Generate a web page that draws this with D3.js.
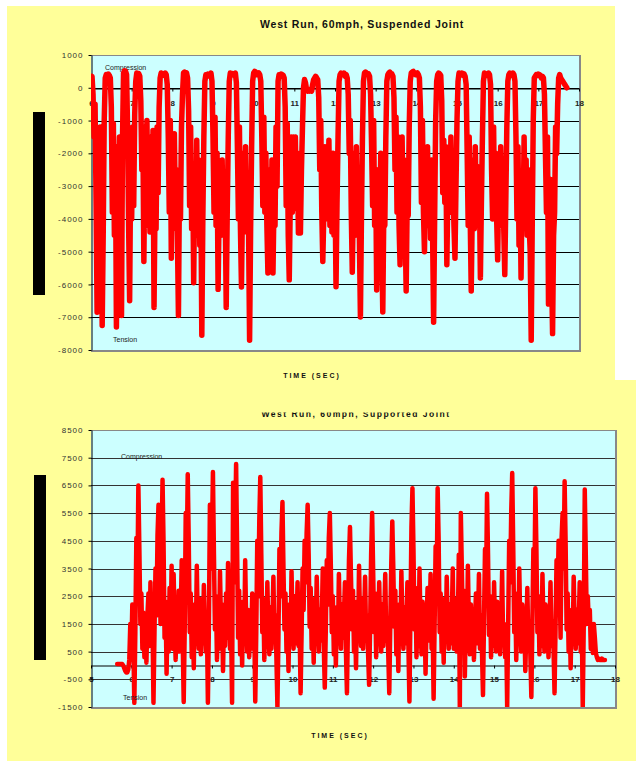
<!DOCTYPE html>
<html><head><meta charset="utf-8">
<script src="https://cdn.jsdelivr.net/npm/d3@7"></script>
<style>
body{margin:0;background:#fff}
svg{display:block}
text{font-family:"Liberation Sans",Arial,sans-serif}
</style>
</head><body>
<svg id="c" width="636" height="761"></svg>
<script>
// ---------- DATA ----------
const suspendedTitle = "West Run, 60mph, Suspended Joint";
const supportedTitle = "West Run, 60mph, Supported Joint";
const xAxisTitle = "TIME (SEC)";
const suspendedYTicks = [1000,0,-1000,-2000,-3000,-4000,-5000,-6000,-7000,-8000];
const suspendedXTicks = [6,7,8,9,10,11,12,13,14,15,16,17,18];
const supportedYTicks = [8500,7500,6500,5500,4500,3500,2500,1500,500,-500,-1500];
const supportedXTicks = [5,6,7,8,9,10,11,12,13,14,15,16,17,18];

// Sampled records: first sample time (s), sample interval (s), load per sample
const suspendedStart = 6.0;
const suspendedStep = 0.025;
const suspendedLoad = [
250,350,-200,-1500,-500,-3500,-6850,-1800,-4200,-1200,-3800,-7250,-4500,-1000,300,400,350,420,380,300,
-600,-3800,-1100,-4500,-1800,-7300,-3000,-4600,-1500,-4800,-6950,-1500,450,520,500,400,-1300,-4200,-6500,-2500,
-4000,-1200,-3600,-800,200,450,400,430,350,-400,-2500,-1200,-5300,-2000,-4200,-1000,-3800,-1500,-4400,-2200,
-3900,-1300,-6700,-3500,-4300,-1200,-3200,-600,300,450,400,420,380,450,400,100,-1500,-3800,-1000,-5200,
-2200,-4300,-1400,-4000,-2500,-4500,-6950,-3000,-4000,-1200,-200,450,480,420,450,300,-700,-3600,-1200,-4300,
-2400,-5950,-2800,-4400,-1600,-4500,-2200,-4800,-3000,-7550,-4000,-1500,200,400,350,420,400,350,450,200,
-1500,-3800,-900,-4200,-2000,-6150,-3800,-2400,-4500,-2200,-4300,-2800,-3600,-6700,-3800,-1500,200,450,400,430,
400,380,450,150,-1800,-4000,-1200,-4300,-6080,-3500,-2000,-4200,-1800,-4400,-3000,-4400,-7700,-4300,-1800,200,
450,500,480,400,420,450,400,200,-1500,-3600,-900,-3800,-2000,-4200,-5650,-3800,-2500,-4500,-2200,-5650,
-3500,-4200,-1200,-3000,200,400,350,420,400,380,300,-600,-3600,-1100,-4500,-5860,-3500,-1500,-3800,-1500,
-2600,-1500,-3700,-2000,-4430,-3200,-4430,-2500,-1200,0,250,150,-50,-100,-80,-100,-50,-100,100,250,
300,350,300,250,-300,-2500,-1000,-3800,-5300,-3800,-1800,-4000,-2200,-3800,-1600,-4200,-2600,-4400,-2000,-4500,
-3000,-6070,-3500,-1500,200,400,450,420,400,450,350,400,300,-200,-2000,-1000,-3800,-5630,-3500,-2000,
-4500,-1800,-4300,-3000,-4600,-6990,-4000,-1500,200,450,480,450,400,420,350,-200,-1800,-3600,-1000,-4200,
-2500,-6170,-3800,-2500,-4300,-2000,-4800,-6840,-3800,-4200,-1500,200,400,450,480,400,420,350,-300,-2500,
-900,-3800,-1500,-4200,-5400,-3000,-1500,-4000,-2200,-4200,-6200,-3500,-3900,-1200,200,450,480,500,450,400,
420,450,400,300,-600,-3500,-1000,-3800,-5000,-2800,-4000,-1800,-4200,-2500,-4600,-2200,-4500,-7150,-4000,-1000,
200,400,450,420,380,-400,-3200,-1600,-3500,-1800,-5400,-3200,-2000,-3800,-1500,-3800,-2800,-4200,-5200,-3000,
-1000,200,450,420,400,450,380,420,350,100,-2000,-4200,-1500,-4000,-6200,-3800,-2200,-4300,-1800,-4000,
-2400,-4200,-3000,-5800,-3500,-1500,200,450,400,420,380,450,400,100,-2500,-4000,-1200,-3800,-2000,-4000,
-5250,-3000,-4200,-1800,-3500,-2500,-4300,-5700,-3500,-1200,200,400,450,420,380,450,400,200,-1500,-4000,
-1800,-4800,-3000,-5800,-3000,-4200,-1500,-4000,-2200,-4500,-2500,-4200,-5000,-7700,-4200,-1000,300,350,400,380,
420,400,380,300,350,300,-200,-2000,-3800,-1500,-6600,-4200,-2800,-5500,-7500,-4500,-3800,-1200,-2000,-500,
300,400,300,250,200,150,100,50,0
];

const supportedStart = 5.65;
const supportedStep = 0.025;
const supportedLoad = [
50,50,50,50,50,50,0,-100,-200,-250,-250,-150,200,1500,
400,2200,900,-1350,1200,4600,2800,6500,4200,1500,2600,600,1900,300,1500,100,1800,2600,700,3000,
700,1600,-1350,1200,3500,1800,4700,5800,4000,1500,4500,6700,4400,1000,2300,-300,1800,500,2800,1200,
3600,600,3300,1500,200,1900,800,2700,500,1600,3800,900,-1320,1300,5500,3800,6900,4500,1200,2600,
300,1700,-100,2200,900,3600,1400,600,2400,400,1800,800,2900,1500,500,1600,-1350,1500,5800,3500,
4500,6980,4000,1300,2500,200,1800,600,3400,1500,2200,-200,1600,700,2600,1000,3700,1800,600,1500,
-1350,6600,3000,4600,7270,4200,1000,2700,400,1600,0,2300,800,3800,1500,500,2000,300,1700,900,
2600,600,1500,-1300,1200,4500,2500,5200,6800,4000,1200,2400,200,1900,700,3000,1200,400,2100,600,
1500,3200,900,1800,300,-1500,1000,4200,2500,4800,5900,3500,1300,2600,500,1800,-200,2200,900,3400,
1500,600,2500,800,1600,3000,700,1400,-1000,1200,3500,2000,4500,3000,4800,5800,4000,1400,2800,600,
1900,100,2400,1000,3200,1400,500,2000,900,1600,3500,700,-800,1300,3800,2200,4600,5500,3600,1200,
2500,400,1700,0,2100,800,3300,1500,600,2200,1000,1800,3000,500,-1000,1500,3800,5000,3200,1300,
2700,500,1800,-100,2300,900,3600,1500,700,2400,600,1700,3200,1000,1800,400,-700,1400,4000,5500,
3400,1200,2600,300,1900,800,3000,1300,500,2200,700,1800,3300,900,1600,400,-1000,1500,3700,5200,
3500,1400,2700,400,1800,-200,2200,900,3400,1600,600,2100,800,1500,3000,700,-1300,1800,5000,6400,
4200,1300,2800,300,1700,700,3500,1500,400,2300,800,1900,-300,1600,2800,900,1500,3300,600,1500,
-1200,1500,4300,2800,6400,4500,1200,2600,500,1800,100,2400,900,3200,1400,600,2200,800,1700,3500,
600,1200,2400,500,1400,4000,-1500,5500,3500,1300,2700,-400,1800,700,3600,1500,400,2200,900,1700,
200,1400,2600,800,1500,3300,600,1800,500,-1070,1600,4200,2600,6200,4000,1100,2500,300,1800,700,
3000,1400,500,2300,900,1800,400,1600,3400,800,1500,300,1200,-1500,1500,4500,3000,5500,6950,4300,
1200,2600,200,1800,800,3500,1500,500,2200,900,1600,-200,1300,2800,800,1600,400,-1140,1500,4200,
2800,6400,4200,1200,2500,400,1900,700,3300,1500,500,2200,900,1800,300,1400,3000,700,1600,600,
-1000,1400,3800,2200,4500,3000,1000,4600,5500,3500,6650,4400,1300,2600,500,1800,-100,2000,900,3200,
1500,600,2000,800,1500,3000,500,1600,-1500,1500,6350,4000,1500,2500,1500,2000,600,1500,450,1500,
1000,450,300,200,250,200,200,250,200,200,200
];

// ---------- LAYOUT ----------
const svg = d3.select("#c");
const YELLOW = "#ffff99", CYAN = "#ccffff", RED = "#ff0000";

svg.append("rect").attr("x",7).attr("y",6).attr("width",608).attr("height",374).attr("fill",YELLOW);
svg.append("rect").attr("x",7).attr("y",380).attr("width",629).attr("height",381).attr("fill",YELLOW);

function drawChart(o){
  const g = svg.append("g");
  const x = d3.scaleLinear().domain(o.xDomain).range([o.x0,o.x1]);
  const y = d3.scaleLinear().domain(o.yDomain).range([o.y1,o.y0]);
  const series = o.load.map((v,i)=>[o.start + i*o.step, v]);
  g.append("rect").attr("x",o.x0).attr("y",o.y0).attr("width",o.x1-o.x0).attr("height",o.y1-o.y0).attr("fill",CYAN);
  g.selectAll(".grid").data(o.yTicks.filter(v=>v!==o.yDomain[0]&&v!==o.yDomain[1])).join("line")
    .attr("x1",o.x0).attr("x2",o.x1).attr("y1",d=>Math.round(y(d))+0.5).attr("y2",d=>Math.round(y(d))+0.5)
    .attr("stroke",o.gridColor).attr("stroke-width",1);
  g.append("line").attr("x1",o.x0).attr("x2",o.x1+1).attr("y1",o.y0+0.5).attr("y2",o.y0+0.5).attr("stroke","#888").attr("stroke-width",1);
  g.append("line").attr("x1",o.x1+1).attr("x2",o.x1+1).attr("y1",o.y0).attr("y2",o.y1+2).attr("stroke","#888").attr("stroke-width",2);
  g.append("line").attr("x1",o.x0).attr("x2",o.x1+2).attr("y1",o.y1+1).attr("y2",o.y1+1).attr("stroke","#888").attr("stroke-width",2);

  const xAxis = d3.axisBottom(x).tickValues(o.xTicks).tickFormat(d3.format("d")).tickSize(3).tickSizeOuter(0).tickPadding(o.xPad);
  const xa = g.append("g").attr("transform",`translate(0,${Math.round(y(0))+0.5})`).call(xAxis);
  xa.select(".domain").attr("stroke","#000");
  xa.selectAll(".tick line").attr("stroke","#000");
  xa.selectAll(".tick text").attr("font-size","8px").attr("font-weight","bold").attr("fill","#222")
    .attr("font-family","Liberation Sans, Arial, sans-serif");

  const yAxis = d3.axisLeft(y).tickValues(o.yTicks).tickFormat(d=>String(d)).tickSize(3).tickSizeOuter(0).tickPadding(5);
  const ya = g.append("g").attr("transform",`translate(${o.x0+0.5},0)`).call(yAxis);
  ya.select(".domain").attr("stroke","#000");
  ya.selectAll(".tick line").attr("stroke","#000");
  ya.selectAll(".tick text").attr("font-size","8px").attr("fill","#333").attr("letter-spacing","1px")
    .attr("font-family","Liberation Sans, Arial, sans-serif");

  g.append("text").attr("x",o.compX).attr("y",o.compY).attr("font-size","7px").attr("fill","#222").text("Compression");
  const clipId = o.id+"clip";
  g.append("clipPath").attr("id",clipId).append("rect").attr("x",o.x0).attr("y",o.y0).attr("width",o.x1-o.x0).attr("height",o.y1-o.y0);
  const line = d3.line().x(d=>x(d[0])).y(d=>y(d[1]));
  g.append("path").datum(series).attr("d",line).attr("fill","none").attr("stroke",RED)
    .attr("stroke-width",o.lw).attr("stroke-linejoin","round").attr("stroke-linecap","round").attr("clip-path",`url(#${clipId})`);
  g.append("text").attr("x",o.tenX).attr("y",o.tenY).attr("font-size","7px").attr("fill","#222").text("Tension");

  g.append("text").attr("x",o.axisTitleX).attr("y",o.axisTitleY).attr("text-anchor","middle").attr("font-size","7px")
    .attr("font-weight","bold").attr("letter-spacing","2px").attr("fill","#111").text(xAxisTitle);
  g.append("rect").attr("x",o.barX).attr("y",o.barY0).attr("width",12).attr("height",o.barY1-o.barY0).attr("fill","#000");
}

drawChart({id:"s", xDomain:[6,18], yDomain:[-8000,1000], x0:91, x1:579, y0:55, y1:350,
  yTicks:suspendedYTicks, xTicks:suspendedXTicks, start:suspendedStart, step:suspendedStep, load:suspendedLoad,
  gridColor:"#000", lw:5.5, xPad:9,
  compX:105, compY:70, tenX:113, tenY:342, axisTitleX:312, axisTitleY:378, barX:33, barY0:112, barY1:295});

drawChart({id:"p", xDomain:[5,18], yDomain:[-1500,8500], x0:91, x1:615, y0:430, y1:707,
  yTicks:supportedYTicks, xTicks:supportedXTicks, start:supportedStart, step:supportedStep, load:supportedLoad,
  gridColor:"#333", lw:4.5, xPad:8,
  compX:121, compY:459, tenX:123, tenY:700, axisTitleX:340, axisTitleY:738, barX:34, barY0:475, barY1:660});

svg.append("text").attr("x",362).attr("y",28).attr("text-anchor","middle").attr("font-size","10.5px")
  .attr("font-weight","bold").attr("letter-spacing","0.8px").attr("fill","#111").text(suspendedTitle);
svg.append("clipPath").attr("id","tclip").append("rect").attr("x",0).attr("y",412.5).attr("width",636).attr("height",10);
svg.append("text").attr("x",356).attr("y",416.5).attr("text-anchor","middle").attr("font-size","8.5px")
  .attr("font-weight","bold").attr("letter-spacing","1.5px").attr("fill","#111").attr("clip-path","url(#tclip)").text(supportedTitle);
</script>
</body></html>
